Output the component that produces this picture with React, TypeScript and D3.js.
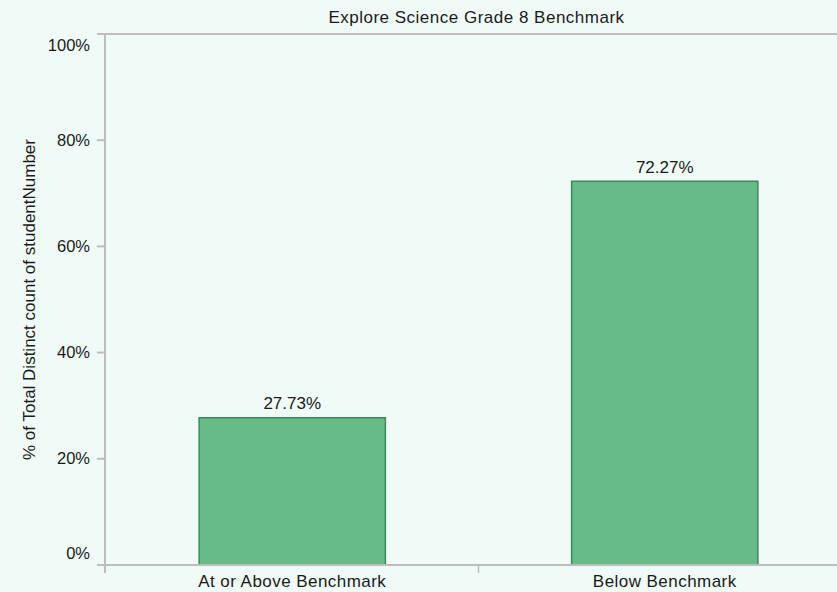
import React from "react";
import * as d3 from "d3";

const categories = ["At or Above Benchmark", "Below Benchmark"];
const values = [27.73, 72.27];
const yTicks = [0, 20, 40, 60, 80, 100];
const title = "Explore Science Grade 8 Benchmark";
const yAxisLabel = "% of Total Distinct count of studentNumber";

const W = 837;
const H = 592;
const FONT = "'Liberation Sans', Arial, sans-serif";

export default function App() {
  const left = 105;
  const top = 34;
  const bottom = 565;

  const y = d3.scaleLinear().domain([0, 100]).range([bottom, top]);
  const x = d3
    .scaleBand<string>()
    .domain(categories)
    .range([left + 1, left + 1 + 2 * 372.5])
    .paddingInner(0.5)
    .paddingOuter(0.25);

  const grey = "#bdbdbd";
  const textColor = "#1a1a1a";

  const tickLabelY = (t: number) => {
    if (t === 0) return y(t) - 6;
    if (t === 100) return y(t) + 17;
    return y(t) + 5.5;
  };

  const sepX = (x(categories[0])! + x(categories[1])! + x.bandwidth()) / 2;

  return (
    <div style={{ position: "fixed", left: 0, top: 0, width: W, height: H }}>
      <svg width={W} height={H} style={{ display: "block" }}>
        <rect x={0} y={0} width={W} height={H} fill="#f0fbf7" />
        <text
          x={sepX - 2}
          y={23}
          textAnchor="middle"
          fontFamily={FONT}
          fontSize={17}
          letterSpacing={0.5}
          fill={textColor}
        >
          {title}
        </text>
        <text
          transform={`translate(35, ${(top + bottom) / 2}) rotate(-90)`}
          textAnchor="middle"
          fontFamily={FONT}
          fontSize={17}
          fill={textColor}
        >
          {yAxisLabel}
        </text>
        {categories.map((c, i) => (
          <g key={c}>
            <rect
              x={x(c)!}
              y={y(values[i])}
              width={x.bandwidth()}
              height={y(0) - y(values[i])}
              fill="#67bb89"
              stroke="#3b8a5d"
              strokeWidth={1.5}
            />
            <text
              x={x(c)! + x.bandwidth() / 2}
              y={y(values[i]) - 8.5}
              textAnchor="middle"
              fontFamily={FONT}
              fontSize={17}
              fill={textColor}
            >
              {values[i].toFixed(2) + "%"}
            </text>
            <text
              x={x(c)! + x.bandwidth() / 2}
              y={587}
              textAnchor="middle"
              fontFamily={FONT}
              fontSize={17}
              letterSpacing={0.45}
              fill={textColor}
            >
              {c}
            </text>
          </g>
        ))}
        <line x1={97} x2={W} y1={top} y2={top} stroke={grey} strokeWidth={2} />
        <line x1={97} x2={W} y1={bottom} y2={bottom} stroke={grey} strokeWidth={2} />
        <line x1={left} x2={left} y1={top} y2={573} stroke={grey} strokeWidth={2} />
        <line x1={sepX} x2={sepX} y1={bottom} y2={573} stroke={grey} strokeWidth={1.5} />
        {yTicks.map((t) => (
          <g key={t}>
            <line x1={97} x2={left} y1={y(t)} y2={y(t)} stroke={grey} strokeWidth={2} />
            <text
              x={90}
              y={tickLabelY(t)}
              textAnchor="end"
              fontFamily={FONT}
              fontSize={16.5}
              fill={textColor}
            >
              {t + "%"}
            </text>
          </g>
        ))}
      </svg>
    </div>
  );
}
